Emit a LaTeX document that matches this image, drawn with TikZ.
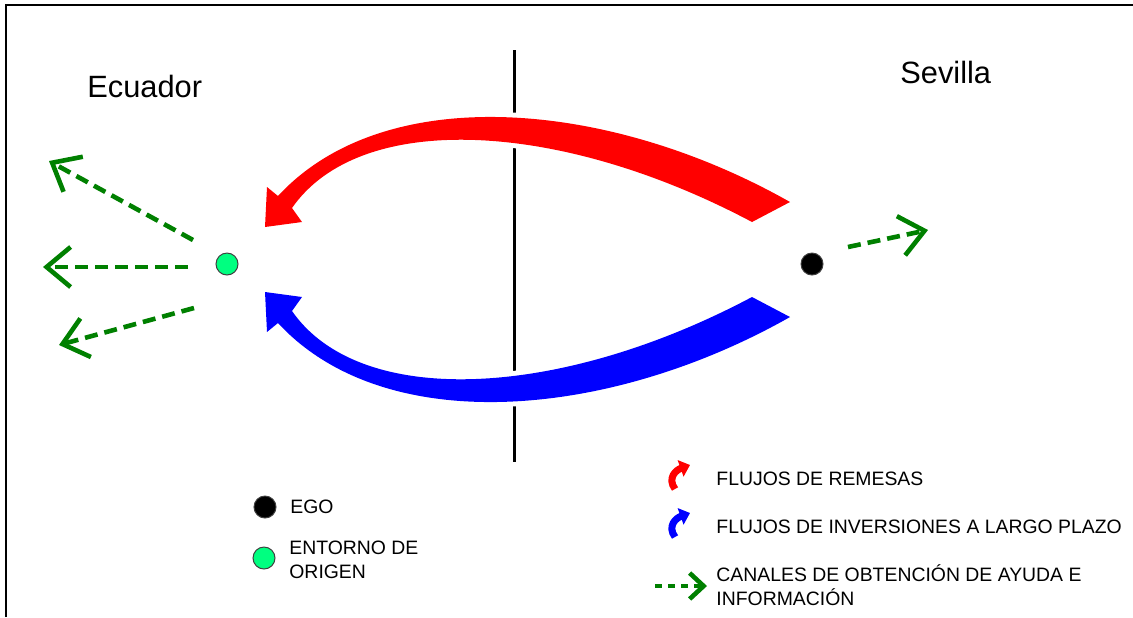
\documentclass[tikz,border=0pt]{standalone}
\usepackage{fontspec}
\setmainfont{Liberation Sans}
\usetikzlibrary{arrows.meta}
\definecolor{canalgreen}{RGB}{0,128,0}
\definecolor{entornogreen}{RGB}{0,255,128}

\tikzset{
	canal/.style={canalgreen, line width=2.3pt, dash pattern=on 6.5pt off 3.5pt, -{Straight Barb[length=12pt,width=20pt]}},
	dot/.style={circle, draw=black!75, line width=0.5pt, inner sep=0pt, minimum size=11pt},
	place/.style={font=\fontsize{15.4}{18}\selectfont, inner sep=0pt},
	legend/.style={font=\fontsize{9.7}{11.7}\selectfont, inner sep=0pt, align=left},
	flow/.style={preaction={draw=white, line width=5pt}},
	flowicon/.style={line width=3.5pt, -{Triangle[length=5pt,width=8.5pt]}}
}

\begin{document}
\begin{tikzpicture}[x=0.5pt,y=-0.5pt]
	\useasboundingbox (0,0) rectangle (1133,617);
	
	%the frame
	\draw[line width=1pt] (6,617) -- (6,4.5) -- (1133,4.5);
	
	%the border between both places
	\draw[line width=1.5pt] (514,50) -- (514,462);
	
	\node[place, anchor=base west] (ecuador) at (87,97.5) {Ecuador};
	\node[place, anchor=base west] (sevilla) at (900,83.5) {Sevilla};
	
	% the flows (blue one is the red one mirrored)
	\def\remesas{(790,202) .. controls (610,100) and (385,80) .. (278,196) -- (267,187) -- (265,227) -- (302,222) -- (292,208) .. controls (360,110) and (560,120) .. (752,222) -- cycle}
	\fill[red, flow] \remesas;
	\begin{scope}[shift={(0,519)}, yscale=-1]
		\fill[blue, flow] \remesas;
	\end{scope}
	
	% ego and origin
	\node[dot, fill=entornogreen] (entorno) at (227,264) {};
	\node[dot, fill=black] (ego) at (812,264) {};
	
	% the channels
	\coordinate (c1s) at ([shift={(-34,-24)}]entorno.center);
	\coordinate (c1e) at (49,161);
	\coordinate (c2s) at ([shift={(-39,3)}]entorno.center);
	\coordinate (c2e) at (43,267);
	\coordinate (c3s) at ([shift={(-33,44)}]entorno.center);
	\coordinate (c3e) at (59,345);
	\coordinate (c4s) at ([shift={(36,-17)}]ego.center);
	\coordinate (c4e) at (928,230);
	\draw[canal] (c1s) -- (c1e);
	\draw[canal] (c2s) -- (c2e);
	\draw[canal] (c3s) -- (c3e);
	\draw[canal] (c4s) -- (c4e);
	
	%legend
	\node[dot, fill=black] (legego) at (265,507) {};
	\node[legend, anchor=base west] (legegotext) at (290,513) {EGO};
	\node[dot, fill=entornogreen] (legentorno) at (264,558) {};
	\node[legend, anchor=base west] (legentornotext) at (289,578) {ENTORNO DE\\ORIGEN};
	
	\draw[red, flowicon] (675,489) .. controls (667,478) and (676,470) .. (690,465);
	\node[legend, anchor=base west] (legremesas) at (716,485) {FLUJOS DE REMESAS};
	\draw[blue, flowicon] (675,537) .. controls (667,526) and (676,518) .. (690,513);
	\node[legend, anchor=base west] (leginversion) at (716,533) {FLUJOS DE INVERSIONES A LARGO PLAZO};
	\coordinate (legcanals) at (655,586);
	\coordinate (legcanale) at (707,586);
	\draw[canal, dash pattern=on 3.5pt off 3pt, -{Straight Barb[length=7pt,width=13pt]}] (legcanals) -- (legcanale);
	\node[legend, anchor=base west] (legcanal) at (716,605) {CANALES DE OBTENCIÓN DE AYUDA E\\INFORMACIÓN};
\end{tikzpicture}
\end{document}
